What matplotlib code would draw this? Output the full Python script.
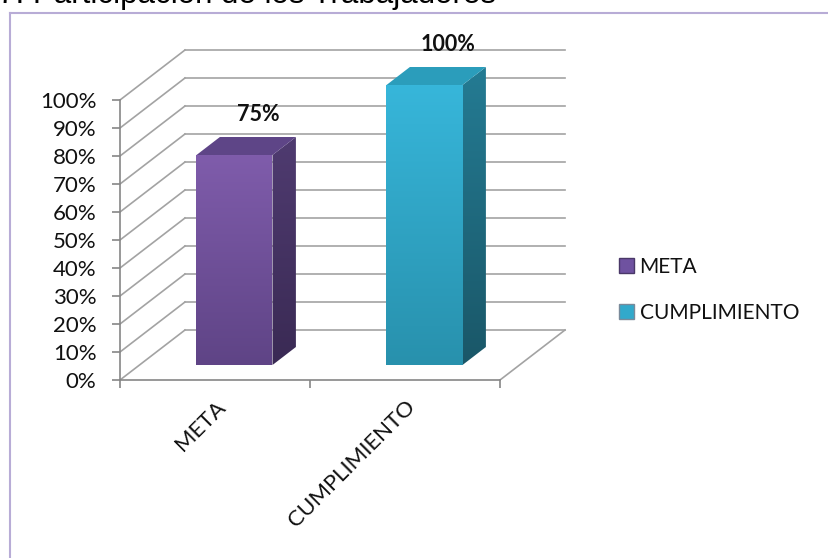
import numpy as np
import matplotlib.pyplot as plt
from matplotlib.patches import Polygon, Patch
from matplotlib.lines import Line2D
from matplotlib.colors import LinearSegmentedColormap
from matplotlib.ticker import PercentFormatter

# data
categories = ['META', 'CUMPLIMIENTO']
values = [0.75, 1.00]
value_labels = ['75%', '100%']
yticks = np.arange(0, 1.01, 0.1)
title = '7. Participación de los Trabajadores'

plt.rcParams['font.family'] = ['Lato', 'DejaVu Sans']

W, H = 829, 558
fig = plt.figure(figsize=(W / 100, H / 100), dpi=100)

# front plane layout in pixels
x0_px, y0_px = 120, 380
px_x, px_y = 190, 280  # pixels per data unit
xmax, ymax = 2.5, 1.3
ax = fig.add_axes([x0_px / W, (H - y0_px) / H, xmax * px_x / W, ymax * px_y / H])
ax.set_xlim(0, xmax)
ax.set_ylim(0, ymax)
ax.patch.set_visible(False)

DX, DY = 65 / px_x, 50 / px_y  # depth of the 3d box in data units
grid_c = '#a3a3a3'

# side wall + back wall gridlines
for t in yticks:
    ax.plot([0, DX], [t, t + DY], color=grid_c, lw=1.2, zorder=1)
    ax.plot([DX, 2 + DX], [t + DY, t + DY], color=grid_c, lw=1.2, zorder=1)
ax.plot([2, 2 + DX], [0, DY], color=grid_c, lw=1.2, zorder=1)


def grad_fill(pts, c1, c2, z):
    # vertical gradient clipped to a polygon
    poly = Polygon(pts, closed=True, facecolor='none', edgecolor='none')
    ax.add_patch(poly)
    pts = np.array(pts)
    cmap = LinearSegmentedColormap.from_list('g', [c2, c1])
    grad = np.linspace(0, 1, 100).reshape(-1, 1)
    im = ax.imshow(grad, cmap=cmap, origin='lower', aspect='auto',
                   extent=[pts[:, 0].min(), pts[:, 0].max(), pts[:, 1].min(), pts[:, 1].max()],
                   zorder=z)
    im.set_clip_path(poly)


bar_w = 0.4
d0, d1 = 0.3, 0.66
styles = [
    dict(front=('#7f5cab', '#5f4486'), side=('#4f3b70', '#3a2a54'), top='#5e4587'),
    dict(front=('#37b6da', '#2891ad'), side=('#247b93', '#1a5768'), top='#2b9dbb'),
]

for i, (v, s) in enumerate(zip(values, styles)):
    xl = i + 0.5 - bar_w / 2 + d0 * DX
    xr = xl + bar_w
    yb = d0 * DY
    yt = yb + v
    ddx, ddy = (d1 - d0) * DX, (d1 - d0) * DY
    front = [(xl, yb), (xr, yb), (xr, yt), (xl, yt)]
    side = [(xr, yb), (xr + ddx, yb + ddy), (xr + ddx, yt + ddy), (xr, yt)]
    top = [(xl, yt), (xr, yt), (xr + ddx, yt + ddy), (xl + ddx, yt + ddy)]
    grad_fill(front, s['front'][0], s['front'][1], 3)
    grad_fill(side, s['side'][0], s['side'][1], 3)
    ax.add_patch(Polygon(top, closed=True, facecolor=s['top'], edgecolor='none', zorder=3))
    ax.text(i + 0.5 + d1 * DX, yt + ddy + 0.082, value_labels[i], ha='center', va='center',
            fontsize=15.5, fontweight='bold', color='#111111')

# axes, ticks
ax.spines[['top', 'right']].set_visible(False)
ax.spines['left'].set_bounds(0, 1)
ax.spines['bottom'].set_bounds(0, 2)
for sp in ['left', 'bottom']:
    ax.spines[sp].set_color('#868686')
    ax.spines[sp].set_linewidth(1.2)
ax.set_yticks(yticks)
ax.yaxis.set_major_formatter(PercentFormatter(1.0, decimals=0))
ax.tick_params(axis='y', length=6, width=1.2, color='#868686', labelsize=16, labelcolor='#111111', pad=11)
ax.set_xticks([0, 1, 2], minor=True)
ax.set_xticks([0.5, 1.5], categories, rotation=45, ha='right', rotation_mode='anchor')
ax.tick_params(axis='x', which='major', length=0, labelsize=16, labelcolor='#111111', pad=12)
ax.tick_params(axis='x', which='minor', length=6, width=1.2, color='#868686')

# legend
handles = [Patch(facecolor='#6f52a0', edgecolor='#4a3868', label=categories[0]),
           Patch(facecolor='#32a9cb', edgecolor='#7a8a9a', label=categories[1])]
fig.legend(handles=handles, loc='center left', bbox_to_anchor=(600 / W, 1 - 290 / H),
           frameon=False, handlelength=0.75, handleheight=0.75,
           handletextpad=0.25, labelspacing=1.25, prop={'size': 15}, labelcolor='#111111')

# chart border and clipped title
border_c = '#b8acd6'
fig.add_artist(Line2D([10 / W, 10 / W], [0, 1 - 13 / H], color=border_c, lw=1.5))
fig.add_artist(Line2D([10 / W, 1], [1 - 13 / H, 1 - 13 / H], color=border_c, lw=1.5))
fig.text(-0.003, 1 - 3 / H, title, fontsize=22.5, family=['Liberation Sans'], va='baseline', ha='left')

fig.savefig('out.png', dpi=100)
